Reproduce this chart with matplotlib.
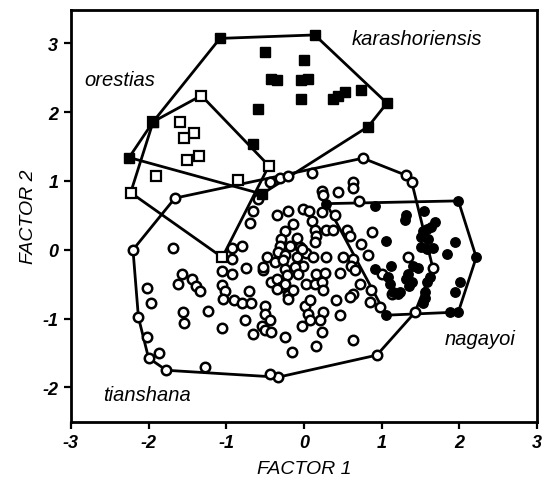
import numpy as np
import matplotlib.pyplot as plt

# karashoriensis (filled squares)
kara_x = [-1.08, 0.14, 1.07, 0.83, -0.54, -2.25, -1.94, -0.65, -0.50, 0.00, -0.42, -0.34,
          -0.04, 0.06, -0.04, -0.59, 0.38, 0.44, 0.53, 0.74]
kara_y = [3.07, 3.12, 2.13, 1.79, 0.81, 1.34, 1.86, 1.54, 2.87, 2.76, 2.48, 2.46,
          2.46, 2.48, 2.19, 2.04, 2.19, 2.24, 2.29, 2.32]

# orestias (open squares)
ores_x = [-1.32, -0.45, -1.05, -2.23, -1.94, -1.60, -1.41, -1.54, -1.50, -1.35, -1.91, -0.85]
ores_y = [2.24, 1.22, -0.11, 0.83, 1.86, 1.86, 1.70, 1.62, 1.31, 1.36, 1.07, 1.02]

# nagayoi (filled circles)
naga_x = [0.29, 0.91, 1.99, 2.22, 1.99, 1.88, 1.06, 1.32, 1.30, 1.55, 1.69, 1.64, 1.58,
          1.53, 1.51, 1.60, 1.51, 1.58, 1.66, 1.94, 1.84, 1.06, 1.41, 1.47, 1.34, 1.32,
          1.39, 1.36, 1.62, 1.58, 1.56, 1.56, 1.54, 2.01, 1.94, 1.24, 0.91, 1.09, 1.11,
          1.15, 1.12, 1.21]
naga_y = [0.67, 0.63, 0.71, -0.11, -0.90, -0.91, -0.95, 0.50, 0.43, 0.57, 0.40, 0.33, 0.30,
          0.27, 0.18, 0.16, 0.04, 0.01, 0.02, 0.11, -0.06, 0.13, -0.23, -0.26, -0.35, -0.42,
          -0.47, -0.52, -0.40, -0.47, -0.61, -0.70, -0.78, -0.47, -0.62, -0.61, -0.28, -0.40, -0.49,
          -0.61, -0.24, -0.64]

# tianshana (open circles)
tian_x = [-2.20, -1.66, 0.76, 1.32, 1.39, 1.66, 1.43, 0.94, -0.33, -1.77, -2.00, -2.13,
          -2.02, -1.86, -2.02, -1.97, -1.68, -1.57, -1.62, -1.44, -1.39, -1.34, -1.56, -1.54,
          -1.24, -1.27, -1.05, -0.80, -0.93, -0.92, -1.05, -0.93, -1.06, -1.01, -1.04, -0.90,
          -0.79, -0.68, -0.75, -0.70, -0.76, -0.65, -0.50, -0.50, -0.44, -0.54, -0.50, -0.42,
          -0.24, -0.15, -0.20, -0.44, -0.44, -0.31, -0.21, 0.11, -0.59, -0.65, -0.69, -0.35,
          -0.20, -0.01, 0.07, -0.14, -0.24, -0.29, -0.09, -0.31, -0.18, -0.05, 0.03, -0.33,
          -0.24, -0.48, -0.09, -0.37, -0.52, -0.01, -0.27, -0.24, -0.22, -0.12, -0.07, -0.42,
          -0.35, -0.29, -0.24, -0.35, -0.14, 0.03, -0.20, 0.01, 0.06, -0.03, 0.23, 0.25,
          0.44, 0.63, 0.63, 0.71, 0.23, 0.40, 0.11, 0.29, 0.38, 0.55, 0.59, 0.15, 0.16,
          0.14, 0.88, 0.73, -0.03, 0.12, 0.29, 0.51, 0.63, 0.83, 1.34, 1.00, 0.16, 0.27,
          0.14, 0.23, 0.25, 0.46, 0.61, 0.66, 0.72, 0.63, 0.59, 0.42, 0.87, 0.85, 0.98,
          0.08, 0.08, 0.25, 0.21, 0.46, 0.23, 0.16, 0.63, 1.13, -0.52]
tian_y = [0.00, 0.75, 1.33, 1.08, 0.98, -0.26, -0.91, -1.53, -1.85, -1.75, -1.57, -0.98,
          -1.27, -1.50, -0.56, -0.77, 0.02, -0.35, -0.49, -0.43, -0.52, -0.60, -0.90, -1.07,
          -0.89, -1.70, -1.13, 0.06, 0.02, -0.13, -0.31, -0.35, -0.51, -0.60, -0.72, -0.73,
          -0.78, -0.77, -0.27, -0.60, -1.02, -1.23, -0.81, -0.93, -1.02, -1.10, -1.17, -1.20,
          -1.27, -1.49, -0.66, -1.80, 0.98, 1.04, 1.07, 1.12, 0.74, 0.57, 0.39, 0.50,
          0.56, 0.59, 0.56, 0.38, 0.27, 0.16, 0.17, 0.06, 0.06, 0.04, -0.05, -0.03,
          -0.08, -0.11, -0.11, -0.18, -0.30, -0.23, -0.15, -0.28, -0.37, -0.25, -0.35, -0.47,
          -0.42, -0.54, -0.49, -0.57, -0.59, -0.49, -0.71, -0.81, -0.93, -1.10, 0.86, 0.79,
          0.84, 0.98, 0.89, 0.71, 0.55, 0.50, 0.42, 0.29, 0.29, 0.29, 0.20, 0.28, 0.20,
          0.11, 0.26, 0.09, 0.01, -0.11, -0.11, -0.11, -0.13, -0.07, -0.11, -0.35, -0.35, -0.33,
          -0.49, -0.47, -0.59, -0.33, -0.23, -0.30, -0.49, -0.64, -0.69, -0.73, -0.59, -0.76, -0.83,
          -0.73, -1.02, -0.90, -1.02, -0.95, -1.19, -1.40, -1.31, -0.64, -0.25]


def hull(xs, ys):
    # monotone chain convex hull, returns closed polygon
    pts = sorted(set(zip(xs, ys)))

    def cross(o, a, b):
        return (a[0] - o[0]) * (b[1] - o[1]) - (a[1] - o[1]) * (b[0] - o[0])

    lower, upper = [], []
    for p in pts:
        while len(lower) >= 2 and cross(lower[-2], lower[-1], p) <= 0:
            lower.pop()
        lower.append(p)
    for p in reversed(pts):
        while len(upper) >= 2 and cross(upper[-2], upper[-1], p) <= 0:
            upper.pop()
        upper.append(p)
    poly = lower[:-1] + upper[:-1]
    poly.append(poly[0])
    return np.array(poly)


plt.rcParams['font.family'] = ['Liberation Sans', 'DejaVu Sans']
plt.rcParams['axes.unicode_minus'] = False
fig = plt.figure(figsize=(5.45, 4.85), dpi=100)
ax = fig.add_axes([0.130, 0.128, 0.855, 0.849])

for xs, ys in [(kara_x, kara_y), (ores_x, ores_y), (tian_x, tian_y), (naga_x, naga_y)]:
    h = hull(xs, ys)
    ax.plot(h[:, 0], h[:, 1], color='black', lw=2.0, zorder=1)

ax.plot(tian_x, tian_y, 'o', ms=6.8, mfc='white', mec='black', mew=1.8, ls='none', zorder=2)
ax.plot(ores_x, ores_y, 's', ms=6.8, mfc='white', mec='black', mew=1.6, ls='none', zorder=2)
ax.plot(naga_x, naga_y, 'o', ms=6.8, mfc='black', mec='black', ls='none', zorder=3)
ax.plot(kara_x, kara_y, 's', ms=7.0, mfc='black', mec='black', ls='none', zorder=3)

lab = dict(fontsize=14.5, style='italic', ha='left', va='center')
ax.text(0.62, 3.07, 'karashoriensis', **lab)
ax.text(-2.83, 2.48, 'orestias', **lab)
ax.text(1.81, -1.29, 'nagayoi', **lab)
ax.text(-2.59, -2.10, 'tianshana', **lab)

ax.set_xlim(-3, 3)
ax.set_ylim(-2.5, 3.48)
ax.set_xticks(range(-3, 4))
ax.set_yticks(range(-2, 4))
ax.tick_params(direction='out', length=5, width=1.6, labelsize=13, pad=4)
for t in ax.get_xticklabels() + ax.get_yticklabels():
    t.set_fontweight('bold')
    t.set_fontstyle('italic')
for s in ax.spines.values():
    s.set_linewidth(2.0)

ax.set_xlabel('FACTOR 1', fontsize=14, style='italic', labelpad=6)
ax.set_ylabel('FACTOR 2', fontsize=14, style='italic', labelpad=4)

fig.savefig('out.png', dpi=100)
